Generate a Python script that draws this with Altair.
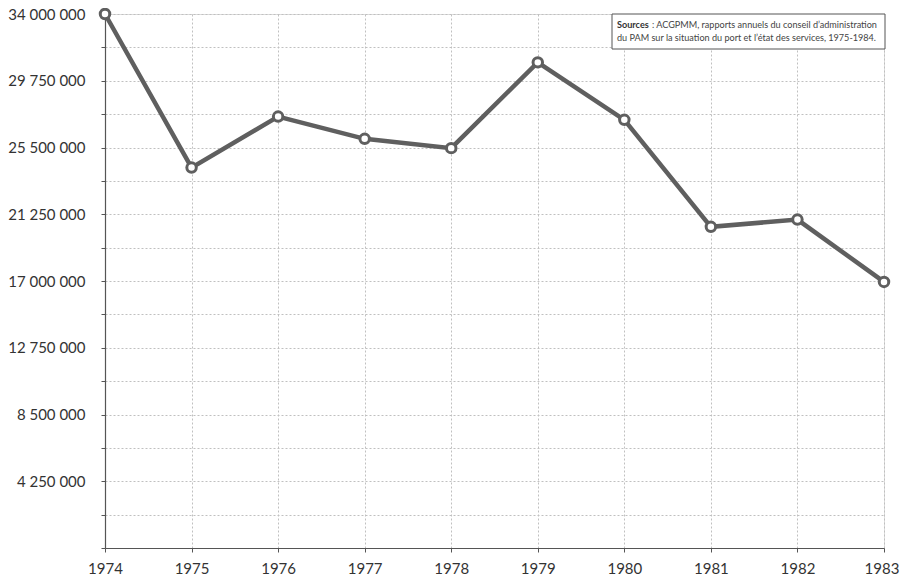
import altair as alt
import pandas as pd

years = [1974, 1975, 1976, 1977, 1978, 1979, 1980, 1981, 1982, 1983]
values = [34000000, 24220000, 27470000, 26050000, 25460000, 30920000, 27260000, 20450000, 20910000, 16940000]
y_ticks = [i * 2125000 for i in range(0, 17)]
source_bold = "Sources"
source_line1 = ": ACGPMM, rapports annuels du conseil d’administration"
source_line2 = "du PAM sur la situation du port et l’état des services, 1975-1984."

df = pd.DataFrame({"year": years, "value": values})

W, H = 779, 534
FONT = "Lato"
LINE = "#5f5f5f"

x = alt.X("year:Q", scale=alt.Scale(domain=[1974, 1983], nice=False, zero=False),
          axis=alt.Axis(values=years, format="d", title=None, grid=True,
                        gridDash=[2, 2], gridColor="#c0c0c0", gridWidth=1,
                        domainColor="#555", domainWidth=1.2, tickColor="#555",
                        tickSize=4, labelPadding=9, labelFontSize=15, labelFont=FONT,
                        labelColor="#333", labelFlush=False,
                        labelOffset={"condition": {"test": "datum.value == 1983", "value": -2.5}, "value": 0}))
y = alt.Y("value:Q", scale=alt.Scale(domain=[0, 34000000], nice=False),
          axis=alt.Axis(values=y_ticks, title=None, grid=True,
                        gridDash=[2, 2], gridColor="#c0c0c0", gridWidth=1,
                        domainColor="#555", domainWidth=1.2, tickColor="#555",
                        tickSize=4, labelPadding=16, labelFontSize=15, labelFont=FONT,
                        labelColor="#333",
                        labelExpr="(datum.value % 4250000 == 0 && datum.value > 0) ? replace(format(datum.value, ',d'), /,/g, ' ') : ''"))

base = alt.Chart(df)
line = base.mark_line(color=LINE, strokeWidth=4.5).encode(x=x, y=y)
pts = base.mark_point(shape="circle", filled=True, fill="white", stroke=LINE,
                      strokeWidth=3, size=90, opacity=1).encode(x=x, y=y)

note = alt.Chart(pd.DataFrame({"a": [0]}))
box = note.mark_rect(fill="white", stroke="#555", strokeWidth=1).encode(
    x=alt.value(507), x2=alt.value(780), y=alt.value(0), y2=alt.value(35))
t_bold = note.mark_text(align="left", baseline="middle", font=FONT, fontSize=9.1,
                        fontWeight="bold", color="#333").encode(
    x=alt.value(512), y=alt.value(11), text=alt.value(source_bold))
t1 = note.mark_text(align="left", baseline="middle", font=FONT, fontSize=9.1,
                    color="#444").encode(
    x=alt.value(547), y=alt.value(11), text=alt.value(source_line1))
t2 = note.mark_text(align="left", baseline="middle", font=FONT, fontSize=9.1,
                    color="#444").encode(
    x=alt.value(512), y=alt.value(24), text=alt.value(source_line2))

chart = alt.layer(line, pts, box, t_bold, t1, t2).properties(
    width=W, height=H,
    autosize=alt.AutoSizeParams(type="none"),
    padding={"left": 97, "top": 6, "right": 16, "bottom": 29},
).configure_view(stroke=None).configure(background="white")

chart.save("out.html", embed_options={"renderer": "svg", "actions": False})
